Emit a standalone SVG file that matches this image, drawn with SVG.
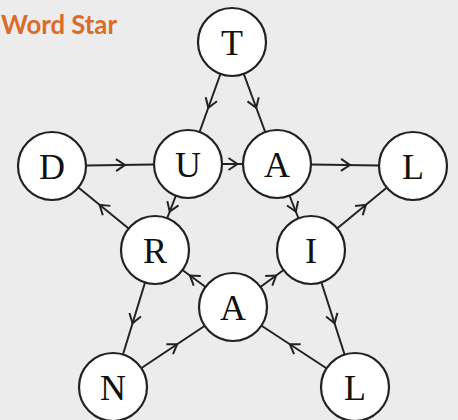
<svg xmlns="http://www.w3.org/2000/svg" width="458" height="420" viewBox="0 0 458 420">
<defs>
<marker id="arr" viewBox="-8 -8 16 16" markerWidth="16" markerHeight="16" refX="0" refY="0" orient="auto" markerUnits="userSpaceOnUse">
<path d="M-4,-6 L5,0 L-4,6" fill="none" stroke="#222" stroke-width="2" stroke-linejoin="miter"/>
</marker>
</defs>
<style>
.bg{fill:#ececec}
.e{fill:none;stroke:#222;stroke-width:2;marker-mid:url(#arr)}
.n circle{fill:#fff;stroke:#222;stroke-width:2.2}
.n text{font-family:"Liberation Serif","Times New Roman",serif;font-size:36px;fill:#111;text-anchor:middle}
.title{font-family:Lato,"Open Sans",sans-serif;font-weight:bold;font-size:27px;fill:#d96b2b}
</style>
<rect class="bg" x="0" y="0" width="458" height="420"/>
<text class="title" x="1" y="34" textLength="116" lengthAdjust="spacingAndGlyphs">Word Star</text>
<g id="connectors">
<path class="e" d="M232,42 L210,103 L188,164"/>
<path class="e" d="M232,42 L254.5,103 L277,164"/>
<path class="e" d="M52,166 L120,165 L188,164"/>
<path class="e" d="M188,164 L232.5,164 L277,164"/>
<path class="e" d="M277,164 L345,165 L413,166"/>
<path class="e" d="M188,164 L171.5,207 L155,250"/>
<path class="e" d="M277,164 L294,207 L311,250"/>
<path class="e" d="M155,250 L103.5,208 L52,166"/>
<path class="e" d="M311,250 L362,208 L413,166"/>
<path class="e" d="M155,250 L134,318.5 L113,387"/>
<path class="e" d="M113,387 L173,347 L233,307"/>
<path class="e" d="M233,307 L194,278.5 L155,250"/>
<path class="e" d="M233,307 L272,278.5 L311,250"/>
<path class="e" d="M355,387 L294,347 L233,307"/>
<path class="e" d="M311,250 L333,318.5 L355,387"/>
</g>
<g id="node-T" class="n"><circle cx="232" cy="42" r="34"/><text x="232" y="54.5">T</text></g>
<g id="node-D" class="n"><circle cx="52" cy="166" r="34"/><text x="52" y="178.5">D</text></g>
<g id="node-U" class="n"><circle cx="188" cy="164" r="34"/><text x="188" y="176.5">U</text></g>
<g id="node-A1" class="n"><circle cx="277" cy="164" r="34"/><text x="277" y="176.5">A</text></g>
<g id="node-L1" class="n"><circle cx="413" cy="166" r="34"/><text x="413" y="178.5">L</text></g>
<g id="node-R" class="n"><circle cx="155" cy="250" r="34"/><text x="155" y="262.5">R</text></g>
<g id="node-I" class="n"><circle cx="311" cy="250" r="34"/><text x="311" y="262.5">I</text></g>
<g id="node-A2" class="n"><circle cx="233" cy="307" r="34"/><text x="233" y="319.5">A</text></g>
<g id="node-N" class="n"><circle cx="113" cy="387" r="34"/><text x="113" y="399.5">N</text></g>
<g id="node-L2" class="n"><circle cx="355" cy="387" r="34"/><text x="355" y="399.5">L</text></g>
</svg>
